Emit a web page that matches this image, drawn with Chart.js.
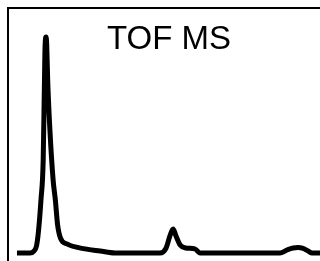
<!DOCTYPE html>
<html>
<head>
<meta charset="utf-8">
<script src="https://cdn.jsdelivr.net/npm/chart.js@4"></script>
<style>
  html, body { margin: 0; padding: 0; background: #fff; overflow: hidden; }
  .chart-box { position: relative; width: 320px; height: 261px; }
</style>
</head>
<body>
<div class="chart-box"><canvas id="tofChart"></canvas></div>
<script>
// flight time (arbitrary units) and detector intensity (% of base peak)
const flightTime = [5.3, 9.4, 10.6, 11.4, 12.0, 12.8, 13.5, 13.9, 14.1, 14.4, 14.6, 14.9, 15.6, 16.6, 17.3, 18.0, 18.9, 20.9, 26.6, 31.3, 35.9,
                    50.0, 51.9, 53.1, 54.1, 55.0, 56.3, 58.1, 60.9, 62.5, 75.0,
                    87.5, 89.7, 91.6, 93.1, 94.7, 96.3, 97.5, 100.0, 103.0];
const intensity  = [0, 0, 0.9, 3.2, 9.7, 24.5, 43.1, 80.1, 96.3, 100, 96.3, 80.1, 56.9, 33.8, 24.5, 13.0, 6.9, 4.2, 1.9, 0.9, 0,
                    0, 2.3, 7.9, 11.1, 7.9, 3.7, 2.3, 1.9, 0, 0,
                    0, 1.4, 2.3, 2.5, 2.1, 0.9, 0, 0, 0];
const titleText = 'TOF MS';

const points = flightTime.map((t, i) => ({ x: t, y: intensity[i] }));

// frame + title drawn on the canvas
const framePlugin = {
  id: 'frame',
  afterDraw(chart) {
    const ctx = chart.ctx;
    ctx.save();
    ctx.strokeStyle = '#000';
    ctx.lineWidth = 2;
    ctx.beginPath();
    ctx.moveTo(8, chart.height);
    ctx.lineTo(8, 8);
    ctx.lineTo(chart.width, 8);
    ctx.stroke();
    ctx.fillStyle = '#000';
    ctx.font = '33px "Liberation Sans", Arial, sans-serif';
    ctx.textAlign = 'left';
    ctx.textBaseline = 'alphabetic';
    ctx.fillText(titleText, 107, 49);
    ctx.restore();
  }
};

const config = {
  type: 'line',
  data: {
    datasets: [{
      data: points,
      borderColor: '#000',
      borderWidth: 5,
      pointRadius: 0,
      fill: false,
      cubicInterpolationMode: 'monotone',
      borderJoinStyle: 'round',
      borderCapStyle: 'butt'
    }]
  },
  options: {
    responsive: true,
    maintainAspectRatio: false,
    animation: false,
    layout: { padding: 0 },
    scales: {
      x: { type: 'linear', min: 0, max: 100, display: false },
      y: { min: -3.7, max: 117.1, display: false }
    },
    plugins: {
      legend: { display: false },
      tooltip: { enabled: false }
    }
  },
  plugins: [framePlugin]
};

new Chart(document.getElementById('tofChart'), config);
</script>
</body>
</html>
